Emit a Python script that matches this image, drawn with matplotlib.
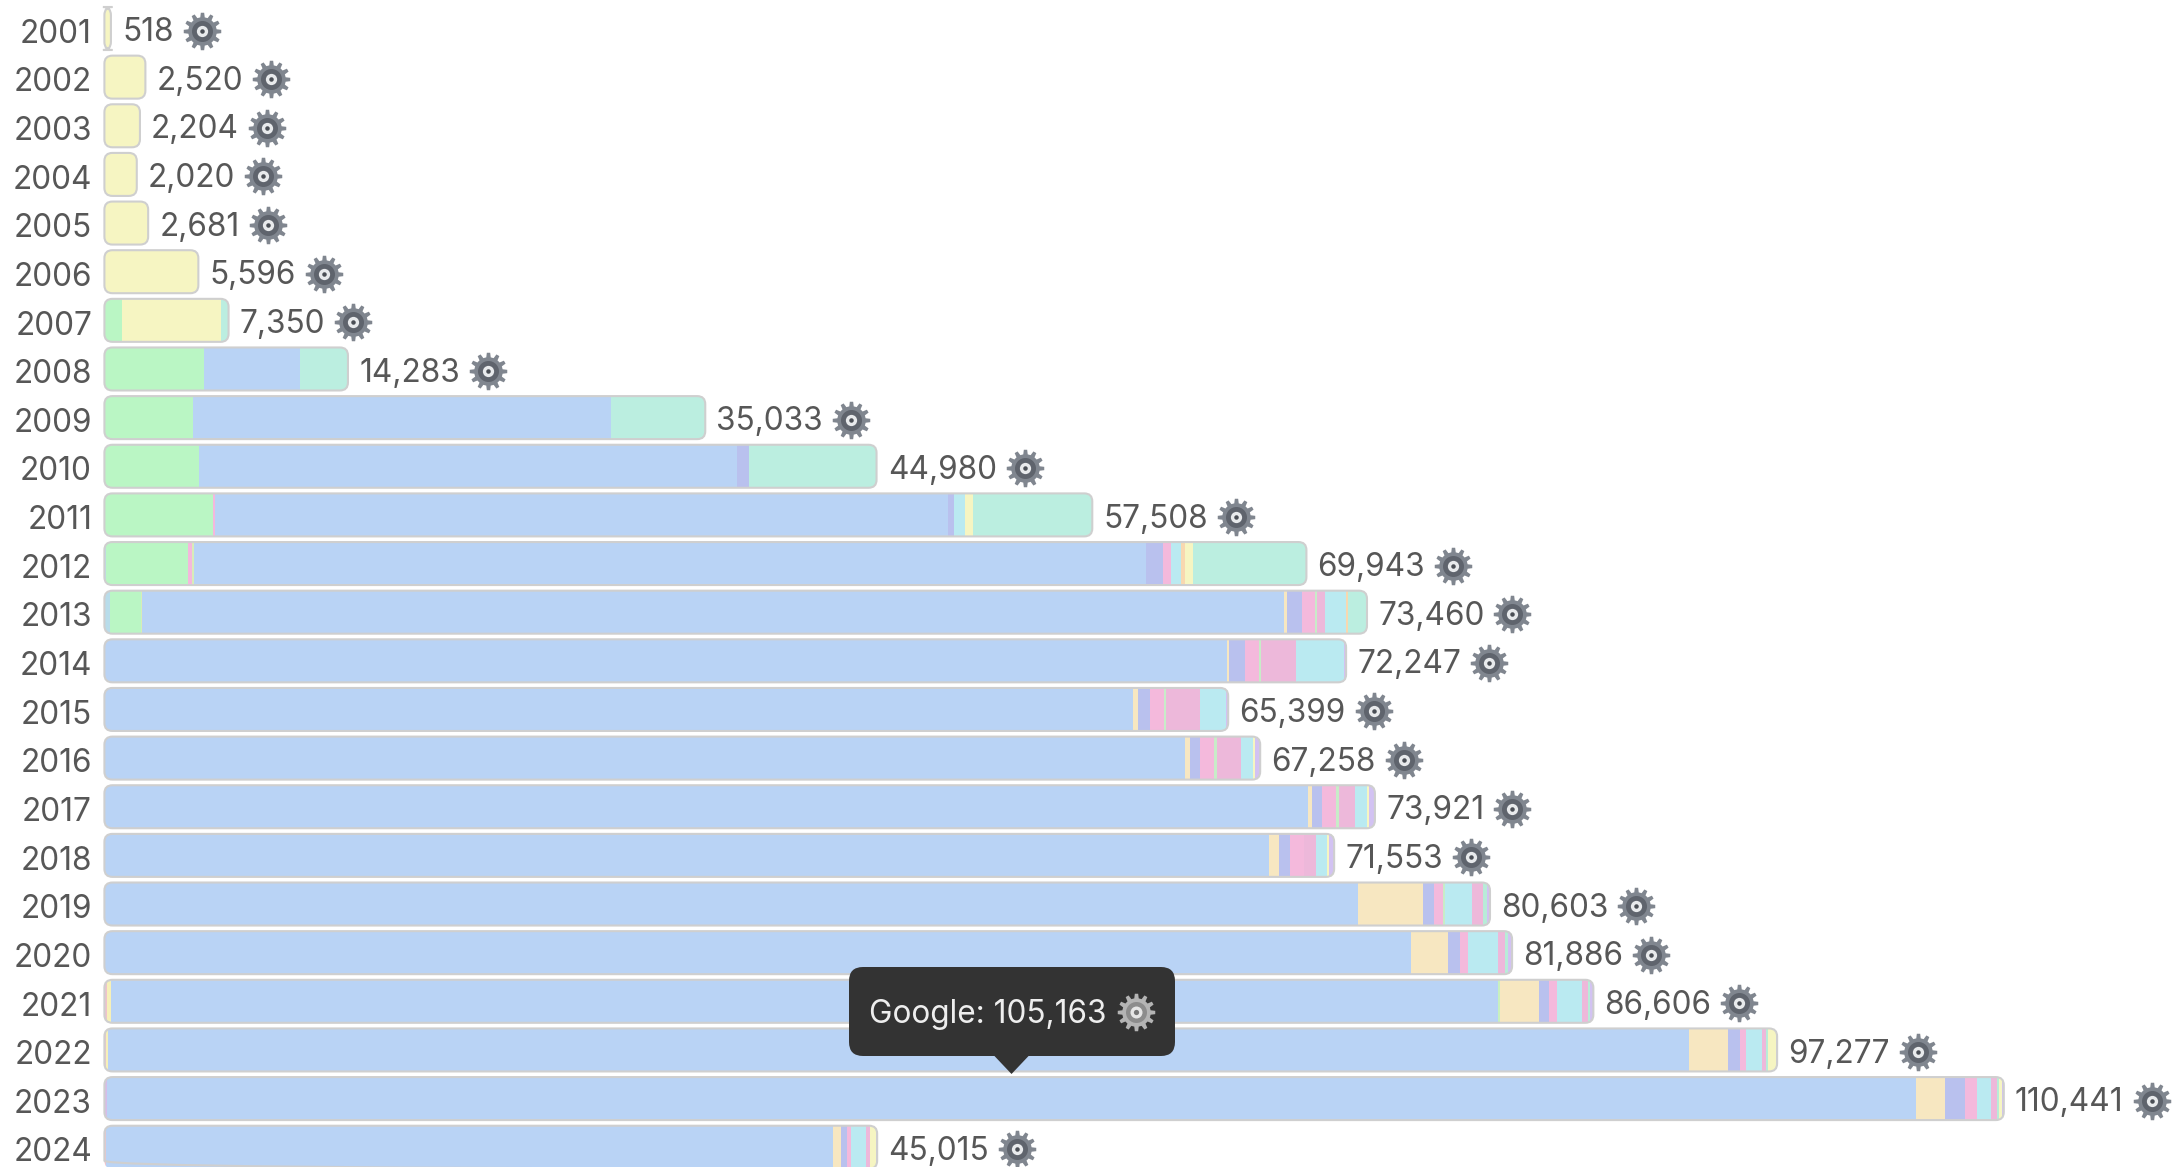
import matplotlib
matplotlib.use('Agg')
import matplotlib.pyplot as plt
import numpy as np
from matplotlib.patches import FancyBboxPatch, Polygon
from matplotlib.path import Path
from matplotlib.transforms import ScaledTranslation

years = list(range(2001, 2025))
totals = [518, 2520, 2204, 2020, 2681, 5596, 7350, 14283, 35033, 44980, 57508, 69943,
          73460, 72247, 65399, 67258, 73921, 71553, 80603, 81886, 86606, 97277, 110441, 45015]

# stack order is left to right, the reference has no legend so only Google has a name
rose = [0, 0, 0, 0, 0, 0, 0, 0, 0, 0, 0, 0, 0, 0, 0, 0, 0, 200, 0, 0, 300, 250, 200, 250]
lilac = [0, 0, 0, 0, 0, 0, 0, 0, 0, 0, 0, 0, 0, 0, 0, 0, 0, 0, 0, 200, 0, 0, 86, 0]
pale = [0, 0, 0, 0, 0, 0, 0, 0, 0, 0, 0, 0, 0, 0, 0, 0, 0, 0, 0, 0, 200, 100, 0, 0]
sky = [0, 0, 0, 0, 0, 0, 0, 0, 0, 0, 0, 240, 490, 0, 0, 0, 0, 0, 0, 0, 0, 0, 0, 0]
green = [0, 0, 0, 0, 0, 0, 1140, 5947, 5256, 5605, 6440, 4780, 1800, 0, 0, 0, 0, 0, 0, 0, 0, 0, 0, 0]
rose2 = [0, 0, 0, 0, 0, 0, 0, 0, 0, 0, 120, 230, 0, 0, 0, 0, 0, 0, 0, 0, 0, 0, 0, 0]
sliver = [0, 0, 0, 0, 0, 0, 0, 0, 0, 0, 0, 110, 60, 0, 0, 0, 0, 0, 0, 0, 0, 0, 0, 0]
google = [0, 0, 0, 0, 0, 0, 0, 5537, 24319, 31271, 42571, 55276, 66301, 65318, 59847, 62908,
          70018, 67582, 72964, 75824, 80585, 91800, 105063, 42211]
sliver2 = [0, 0, 0, 0, 0, 0, 0, 0, 0, 0, 0, 0, 0, 0, 0, 0, 0, 0, 0, 0, 121, 0, 0, 0]
tan = [0, 0, 0, 0, 0, 0, 0, 0, 0, 0, 0, 0, 144, 122, 289, 289, 240, 579, 3759, 2145, 2242, 2250, 1651, 465]
peri = [0, 0, 0, 0, 0, 0, 0, 0, 0, 720, 360, 964, 916, 915, 700, 579, 579, 602, 603, 675, 578, 717, 1179, 349]
pink = [0, 0, 0, 0, 0, 0, 0, 0, 0, 0, 0, 482, 724, 819, 819, 819, 843, 844, 554, 482, 457, 329, 717, 233]
thin = [0, 0, 0, 0, 0, 0, 0, 0, 0, 0, 0, 0, 120, 144, 120, 169, 145, 0, 120, 0, 0, 0, 0, 0]
mauve = [0, 0, 0, 0, 0, 0, 0, 0, 0, 0, 0, 0, 457, 2000, 1977, 1398, 916, 674, 0, 0, 0, 0, 0, 0]
cyan = [0, 0, 0, 0, 0, 0, 0, 0, 0, 0, 650, 579, 1229, 2820, 1494, 698, 723, 651, 1567, 1759, 1446, 969, 814, 833]
mauve2 = [0, 0, 0, 0, 0, 0, 0, 0, 0, 0, 0, 0, 0, 0, 0, 0, 0, 0, 602, 362, 338, 213, 348, 232]
cyan2 = [0, 0, 0, 0, 0, 0, 0, 0, 0, 0, 0, 0, 0, 0, 0, 0, 0, 0, 241, 193, 145, 136, 117, 0]
orange = [0, 0, 0, 0, 0, 0, 0, 0, 0, 0, 0, 241, 96, 0, 0, 0, 0, 0, 0, 0, 0, 0, 0, 0]
yellow = [518, 2520, 2204, 2020, 2681, 5596, 5786, 0, 0, 0, 440, 482, 0, 0, 0, 97, 120, 96, 0, 0, 0, 446, 174, 349]
mint = [0, 0, 0, 0, 0, 0, 424, 2799, 5458, 7384, 6927, 6559, 1123, 0, 0, 0, 0, 0, 0, 0, 0, 0, 0, 0]
lavender = [0, 0, 0, 0, 0, 0, 0, 0, 0, 0, 0, 0, 0, 109, 153, 301, 337, 325, 193, 246, 194, 67, 92, 93]

stack = [
    (rose, '#eec3cc'), (lilac, '#d6bce8'), (pale, '#f6f0b8'), (sky, '#b8dcea'),
    (green, '#baf6c4'), (rose2, '#f4b8dc'), (sliver, '#d8ecb8'), (google, '#b9d3f5'),
    (sliver2, '#c8f0c0'), (tan, '#f7e7c1'), (peri, '#b9c1ee'), (pink, '#f4b9dc'),
    (thin, '#c8ecc8'), (mauve, '#edb8da'), (cyan, '#baeaf1'), (mauve2, '#edb8da'),
    (cyan2, '#b8ecd8'), (orange, '#f8d8b0'), (yellow, '#f6f5c2'), (mint, '#bbeee0'),
    (lavender, '#d2c2f2'),
]

W, H = 2177, 1167
px_per_val = 0.01722
x0 = 102
row0 = 28.5
pitch = 48.64
bar_h = 43 / pitch
text_color = '#575757'
text_size = 22.7

plt.rcParams['font.family'] = ['Inter', 'DejaVu Sans']


def gear_marker(teeth=12):
    pts = []
    for k in range(teeth):
        a = 2 * np.pi * k / teeth
        step = 2 * np.pi / teeth
        for da, r in [(-0.30, 0.76), (-0.17, 1.0), (0.17, 1.0), (0.30, 0.76)]:
            pts.append((r * np.cos(a + da * step), r * np.sin(a + da * step)))
    pts.append(pts[0])
    return Path(pts, closed=True)


def draw_gear(axis, x, y, layers):
    gear = gear_marker()
    axis.plot([x], [y], marker=gear, ms=27, mfc=layers[0], mec='none', ls='none')
    for frac, color in layers[1]:
        axis.plot([x], [y], marker='o', ms=27 * frac, mfc=color, mec='none', ls='none')


fig = plt.figure(figsize=(W / 100, H / 100), dpi=100)
ax = fig.add_axes([x0 / W, 0, 1 - x0 / W, 1])
ax.set_xlim(0, (W - x0) / px_per_val)
ax.set_ylim((H - row0) / pitch, -row0 / pitch)
for s in ax.spines.values():
    s.set_visible(False)
ax.set_xticks([])
ax.set_yticks(range(len(years)), [str(y) for y in years], fontsize=text_size, color=text_color)
ax.tick_params(axis='y', length=0, pad=7.2)
nudge = ScaledTranslation(0, -1.6 / 72, fig.dpi_scale_trans)
for t in ax.get_yticklabels():
    t.set_transform(t.get_transform() + nudge)

radius = 8 / px_per_val
aspect = px_per_val / pitch
bar_start = 2.4 / px_per_val

over = fig.add_axes([0, 0, 1, 1], facecolor='none')
over.set_xlim(0, W)
over.set_ylim(H, 0)
over.axis('off')

labels = []
for i, total in enumerate(totals):
    y = i - bar_h / 2
    outline = FancyBboxPatch((bar_start, y), total - bar_start, bar_h,
                             boxstyle=f'round,pad=0,rounding_size={radius}',
                             mutation_aspect=aspect, facecolor='none', edgecolor='#cfcfcf',
                             linewidth=1.5, zorder=3)
    ax.add_patch(outline)
    left = 0
    for values, color in stack:
        v = values[i]
        if v > 0:
            bar = ax.barh(i, v, left=left, height=bar_h, color=color, linewidth=0, zorder=2)
            bar[0].set_clip_path(outline)
            left += v
    labels.append(ax.annotate(f'{total:,}', xy=(total, i), xytext=(8, -3), textcoords='offset points',
                              ha='left', va='center', fontsize=text_size, color=text_color))

fig.canvas.draw()
renderer = fig.canvas.get_renderer()
dark_gear = ('#80868f', [(0.56, '#5f646d'), (0.30, '#e8eaec'), (0.12, '#4a4e55')])
for i, label in enumerate(labels):
    box = label.get_window_extent(renderer)
    draw_gear(over, box.x1 + 28, row0 + i * pitch + 2, dark_gear)

# tooltip sits on its own pixel overlay
tip_x = x0 + (google[22] / 2 + rose[22] + lilac[22]) * px_per_val
over.add_patch(FancyBboxPatch((849, 967), 326, 89, boxstyle='round,pad=0,rounding_size=14',
                              facecolor='#333333', edgecolor='none'))
over.add_patch(Polygon([(tip_x - 18, 1055), (tip_x + 18, 1055), (tip_x, 1074)],
                       facecolor='#333333', edgecolor='none'))
tip = over.text(869, 1014, 'Google: 105,163', ha='left', va='center', fontsize=text_size, color='#eeeeee')
box = tip.get_window_extent(renderer)
draw_gear(over, box.x1 + 29, 1012, ('#b4b4b4', [(0.56, '#8c8c8c'), (0.32, '#e6e6e6'), (0.14, '#777777')]))

fig.savefig('out.png', dpi=100)
